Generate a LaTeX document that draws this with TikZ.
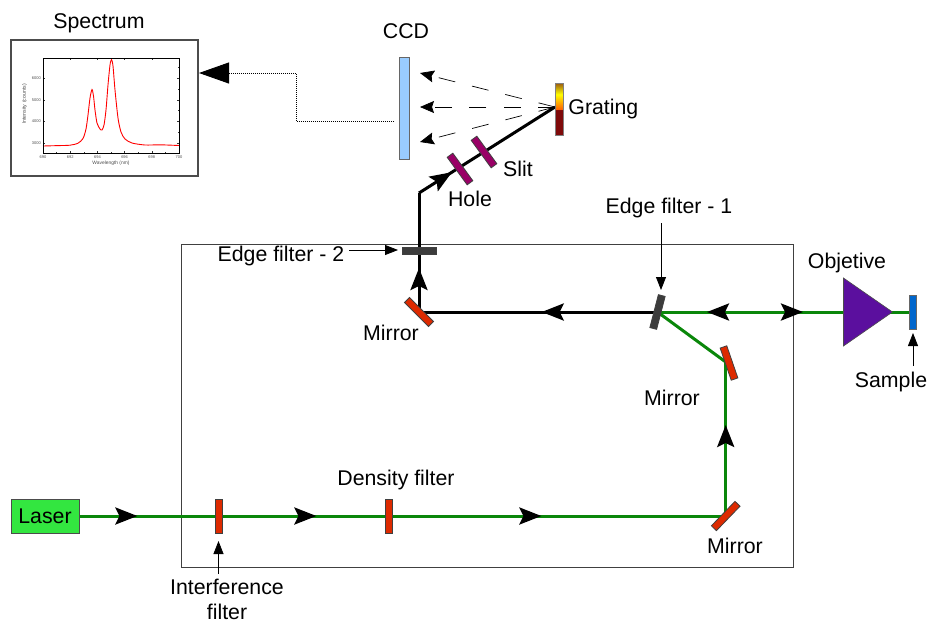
\documentclass[tikz,border=0pt]{standalone}
\usepackage{fontspec}
\setmainfont{Liberation Sans}
\usetikzlibrary{positioning,arrows.meta,shapes.geometric,backgrounds,decorations.markings}

\definecolor{beamgreen}{HTML}{0A870A}
\definecolor{mirrorred}{HTML}{DD2A00}
\definecolor{filtergray}{HTML}{3C3C3C}
\definecolor{slitpurple}{HTML}{990066}
\definecolor{darkgrating}{HTML}{7F0A0A}
\definecolor{browngrating}{HTML}{9A5A10}
\pgfdeclareverticalshading{gratingshade}{100bp}{
  color(0bp)=(darkgrating); color(49bp)=(darkgrating); color(50bp)=(orange!80!red);
  color(64bp)=(yellow); color(75bp)=(browngrating); color(100bp)=(browngrating)}

\tikzset{
  txt/.style={font=\fontsize{21.3}{25}\selectfont, inner sep=0pt, text height=15.5pt, text depth=4.5pt},
  plate/.style={rectangle, draw=black!75, line width=0.8pt, minimum width=34pt, minimum height=7pt, inner sep=0pt, outer sep=0pt},
  mirror/.style={plate, fill=mirrorred},
  edgefilter/.style={plate, fill=filtergray},
  slitplate/.style={plate, fill=slitpurple},
  beamtip/.tip={Stealth[length=22pt,width=17pt,inset=4pt,color=black]},
  tip at/.style={postaction={decorate, decoration={markings, mark=at position #1 with {\arrow{beamtip}}}}},
  back tip at/.style={postaction={decorate, decoration={markings, mark=at position #1 with {\arrowreversed{beamtip}}}}},
  green beam/.style={line width=3pt, draw=beamgreen},
  black beam/.style={line width=3pt, draw=black},
  pointer/.style={line width=0.8pt, >={Triangle[length=13pt,width=10pt]}},
  ray/.style={line width=0.7pt, dash pattern=on 17pt off 17.3pt, >={Stealth[length=14pt,width=12pt,inset=2pt]}},
  readout/.style={line width=0.9pt, dash pattern=on 1pt off 1pt, >={Triangle[length=30pt,width=21pt]}},
  tick/.style={line width=0.5pt, black!80},
  axnum/.style={font=\fontsize{4}{4}\selectfont, inner sep=0pt, text=black!70}
}

\begin{document}
\begin{tikzpicture}[x=1pt,y=-1pt]
\useasboundingbox (0,0) rectangle (929,622);

%% Nodes definition
\node[rectangle, draw=black!70, line width=1.2pt, minimum width=187pt, minimum height=136pt, inner sep=0pt] (spectrum) at (104.5,108) {};
\node[txt, above = 6.5pt of spectrum, xshift=-5.5pt] (spectrum_txt) {Spectrum};
\node[rectangle, draw=black!60, line width=0.8pt, fill={rgb,255:red,153;green,204;blue,255}, minimum width=10pt, minimum height=102pt, inner sep=0pt] (ccd) at (404,108) {};
\node[txt, above = 13.5pt of ccd, xshift=2pt] (ccd_txt) {CCD};
\node[rectangle, draw=black!50, line width=0.5pt, shade, shading=gratingshade, minimum width=8pt, minimum height=52pt, inner sep=0pt] (grating) at (559,109) {};
\node[txt, right = 5pt of grating] (grating_txt) {Grating};
\node[slitplate, rotate=-54] (slit) at (484,152) {};
\node[txt] (slit_txt) at (518,170.5) {Slit};
\node[slitplate, rotate=-54] (hole) at (460,169) {};
\node[txt] (hole_txt) at (470,200.5) {Hole};
\node[edgefilter] (edge_two) at (419.5,250.5) {};
\node[txt] (edge_two_txt) at (281,255.5) {Edge filter - 2};
\node[edgefilter, rotate=75.5] (edge_one) at (657.5,312) {};
\node[txt] (edge_one_txt) at (669,207.5) {Edge filter - 1};
\node[mirror, rotate=-45] (mirror_top) at (419,312) {};
\node[txt] (mirror_top_txt) at (391,334.5) {Mirror};
\node[mirror, rotate=-71] (mirror_side) at (729,363) {};
\node[txt] (mirror_side_txt) at (672,399.5) {Mirror};
\node[mirror, rotate=46] (mirror_low) at (725.7,516) {};
\node[txt] (mirror_low_txt) at (735,547.5) {Mirror};
\node[isosceles triangle, isosceles triangle apex angle=69.5, isosceles triangle stretches, minimum width=68pt, minimum height=49pt, inner sep=0pt, anchor=apex, draw=black!70, line width=0.6pt, fill={rgb,255:red,91;green,15;blue,158}] (objective) at (893,312) {};
\node[txt] (objective_txt) at (847,262.5) {Objetive};
\node[rectangle, draw=black!60, line width=0.8pt, fill={rgb,255:red,0;green,102;blue,204}, minimum width=7pt, minimum height=34pt, inner sep=0pt] (sample) at (912.5,312) {};
\node[txt] (sample_txt) at (891,381.5) {Sample};
\node[txt, text height=17pt, text depth=3pt, rectangle, draw=black!70, line width=0.8pt, fill={rgb,255:red,51;green,230;blue,64}, minimum width=68pt, minimum height=34pt] (laser) at (45,516) {Laser};
\node[mirror, rotate=90] (interference) at (218.5,516) {};
\node[txt, align=center, text height=, text depth=] (interference_txt) at (227,599) {Interference\\filter};
\node[mirror, rotate=90] (density) at (388.5,516) {};
\node[txt] (density_txt) at (396,479.5) {Density filter};

%% Free ends of the beams and pointers
\coordinate (ccd_out) at (394,121);
\coordinate (turn_one) at (296,121);
\coordinate (turn_two) at (296,73);
\coordinate (spectrum_in) at (199,73);
\coordinate (grating_in) at (555,107);
\coordinate (ray_up) at (420,73);
\coordinate (ray_mid) at (420,107);
\coordinate (ray_down) at (420,142);
\coordinate (kink) at (419,193);
\coordinate (turn_side) at (725.7,362);
\coordinate (edge_one_a) at (661,223);
\coordinate (edge_one_b) at (661,290);
\coordinate (edge_two_a) at (349,250);
\coordinate (edge_two_b) at (398,250);
\coordinate (sample_a) at (913,366);
\coordinate (sample_b) at (913,333);
\coordinate (interference_a) at (218.5,574);
\coordinate (interference_b) at (218.5,541);

%% Edges definition
\begin{scope}[on background layer]
\node[rectangle, draw=black!75, line width=1pt, minimum width=612pt, minimum height=323pt, inner sep=0pt] (bench) at (487,405.5) {};
\path
    (laser) edge [green beam, tip at=58pt, tip at=237pt, tip at=462pt] (mirror_low.center)
    (mirror_low.center) edge [green beam, tip at=91pt] (turn_side)
    (turn_side) edge [green beam] (edge_one.center)
    (edge_one.center) edge [green beam, back tip at=49.5pt, tip at=145.5pt] (sample.center)
    (edge_one.center) edge [black beam, tip at=115.8pt] (mirror_top.center)
    (mirror_top.center) edge [black beam, tip at=44pt] (kink)
    (kink) edge [black beam, tip at=39pt] (grating_in)
    ;
\end{scope}
\path
    (grating_in) edge [ray, ->] (ray_up)
    (grating_in) edge [ray, ->] (ray_mid)
    (grating_in) edge [ray, ->] (ray_down)
    ;
\draw[readout, ->] (ccd_out) -- (turn_one) -- (turn_two) -- (spectrum_in);
\path[pointer]
    (edge_one_a) edge [->] (edge_one_b)
    (edge_two_a) edge [->] (edge_two_b)
    (sample_a) edge [->] (sample_b)
    (interference_a) edge [->] (interference_b)
    ;

%% Plot inside the spectrum box
\foreach \xval [count=\i from 0] in {690,692,694,696,698,700} {
    \draw[tick] ({43+27.2*\i},153) -- ({43+27.2*\i},151) ({43+27.2*\i},58) -- ({43+27.2*\i},60);
    \node[axnum] (xnum\i) at ({43+27.2*\i},157.5) {\xval};
}
\foreach \i in {0,...,4}
    \draw[tick] ({56.6+27.2*\i},153) -- ({56.6+27.2*\i},152) ({56.6+27.2*\i},58) -- ({56.6+27.2*\i},59);
\foreach \yval/\ypos in {3000/143,4000/121.5,5000/100,6000/78} {
    \draw[tick] (43,\ypos) -- (45,\ypos) (179,\ypos) -- (177,\ypos);
    \node[axnum, anchor=east] (ynum\yval) at (41,\ypos) {\yval};
}
\foreach \ypos in {132.2,110.7,89,67}
    \draw[tick] (43,\ypos) -- (44,\ypos) (179,\ypos) -- (178,\ypos);
\draw[red, line width=0.9pt] plot[smooth, tension=0.45] coordinates {(43,146) (58,145.6) (70,145.2) (78,143.2) (83,138.5) (86,129) (88,115) (90,98) (92,89.5) (93.5,96) (95,110) (97,123) (100,129) (102,130) (104,125) (106,110) (108,85) (110,65) (111.5,59.5) (113,66) (115,90) (118,118) (121,132) (125,139) (132,143) (145,145) (160,144.8) (179,145.5)};
\node[rectangle, draw=black, line width=0.9pt, minimum width=136pt, minimum height=95pt, inner sep=0pt] (plot_area) at (111,105.5) {};
\node[axnum, font=\fontsize{4.9}{5}\selectfont] (plot_xlabel) at (111,163.5) {Wavelength (nm)};
\node[axnum, font=\fontsize{5.2}{5}\selectfont, rotate=90] (plot_ylabel) at (24.5,104) {Intensity (counts)};
\end{tikzpicture}
\end{document}
